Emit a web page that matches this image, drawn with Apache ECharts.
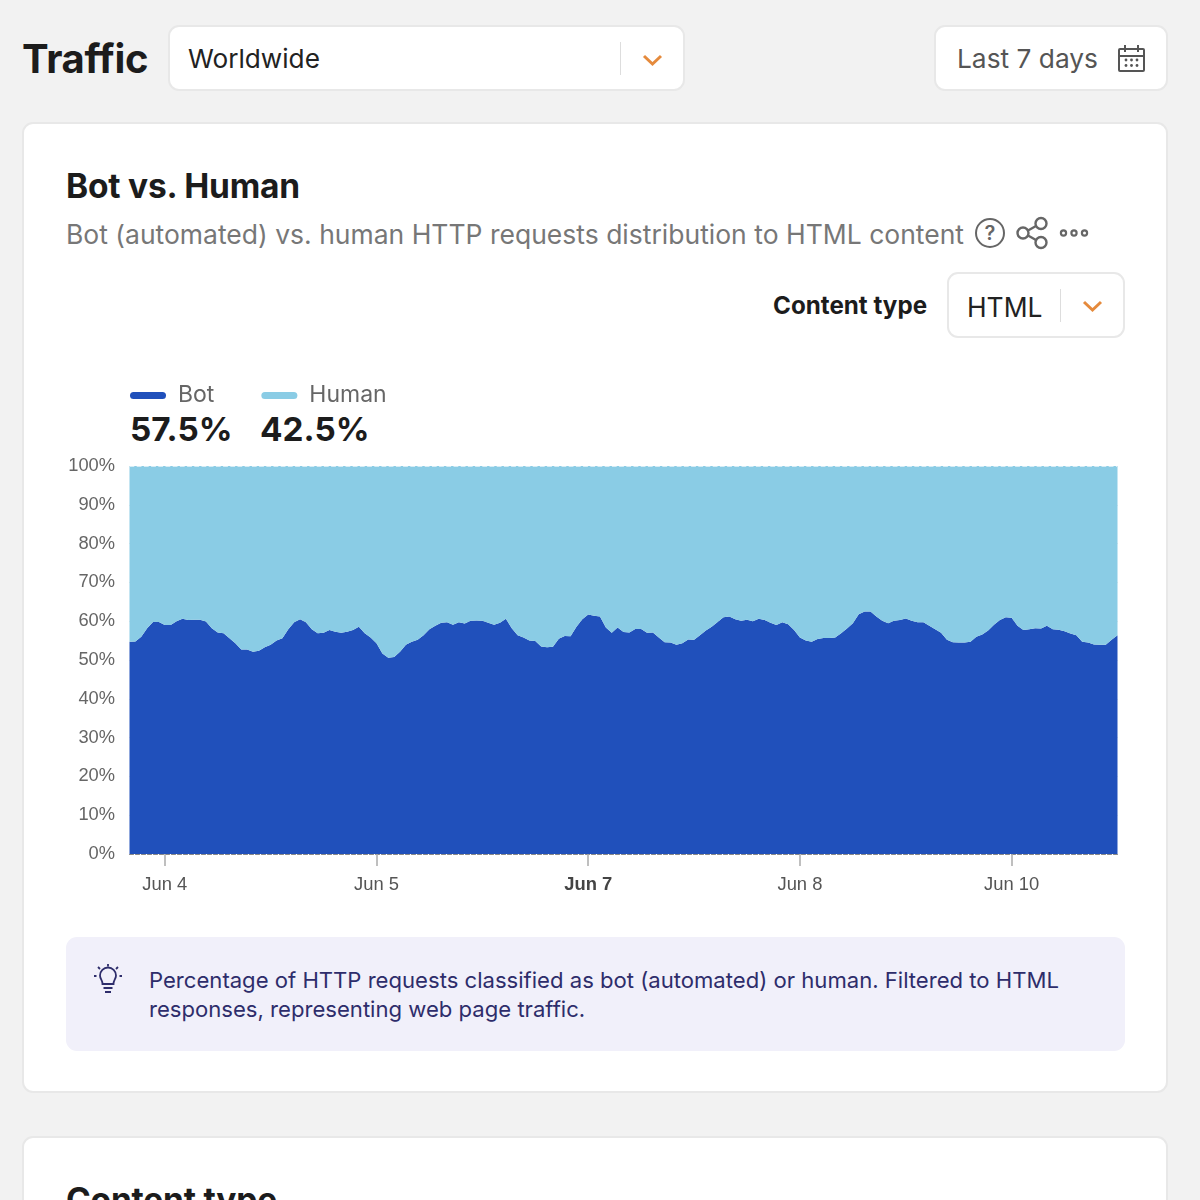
<!DOCTYPE html>
<html>
<head>
<meta charset="utf-8">
<script src="https://cdn.jsdelivr.net/npm/echarts@6/dist/echarts.min.js"></script>
<style>
html,body{margin:0;padding:0;width:1200px;height:1200px;overflow:hidden;background:#f2f2f2;font-family:Inter,"Liberation Sans",sans-serif;}
.a{position:absolute;white-space:nowrap;}
.box{position:absolute;background:#fff;border:2px solid #e8e8e8;border-radius:11px;box-sizing:border-box;}
.t{position:absolute;white-space:nowrap;line-height:40px;height:40px;}
svg{position:absolute;overflow:visible;}
#chart{position:absolute;left:0;top:0;width:1200px;height:1200px;}
</style>
</head>
<body>
<div class="t" style="left:22px;top:39px;font-size:40px;font-weight:700;color:#1c1c1c;letter-spacing:-0.3px">Traffic</div>
<div class="box" style="left:168px;top:25px;width:517px;height:66px"></div>
<div class="t" style="left:188px;top:38.5px;font-size:26.2px;color:#222">Worldwide</div>
<div class="a" style="left:620px;top:42px;width:1px;height:33px;background:#ddd"></div>
<svg style="left:642px;top:54px" width="22" height="12"><path d="M2 2 L10.5 10 L19 2" fill="none" stroke="#e58a3c" stroke-width="3"/></svg>
<div class="box" style="left:934px;top:25px;width:234px;height:66px"></div>
<div class="t" style="left:957px;top:38.5px;font-size:26.3px;color:#555">Last 7 days</div>
<svg style="left:1118px;top:45px" width="28" height="27" fill="none" stroke="#555" stroke-width="2">
  <rect x="1" y="4" width="25" height="22" rx="1"/><path d="M1 11 H26 M7 0 V7 M20 0 V7"/>
  <g fill="#555" stroke="none"><circle cx="8" cy="15" r="1.4"/><circle cx="13.5" cy="15" r="1.4"/><circle cx="19" cy="15" r="1.4"/><circle cx="8" cy="20.5" r="1.4"/><circle cx="13.5" cy="20.5" r="1.4"/><circle cx="19" cy="20.5" r="1.4"/></g>
</svg>

<div class="box" style="left:22px;top:122px;width:1146px;height:971px"></div>
<div class="t" style="left:66px;top:166px;font-size:33.5px;font-weight:700;color:#1c1c1c;letter-spacing:-0.2px">Bot vs. Human</div>
<div class="t" style="left:66px;top:213.5px;font-size:26.5px;color:#777">Bot (automated) vs. human HTTP requests distribution to HTML content</div>
<svg style="left:975px;top:218px" width="30" height="30"><circle cx="15" cy="15" r="14" fill="none" stroke="#666" stroke-width="2"/><text x="15" y="22" font-size="20" font-family="Inter" font-weight="600" text-anchor="middle" fill="#666">?</text></svg>
<svg style="left:1016px;top:217px" width="32" height="32" fill="none" stroke="#666" stroke-width="2.4"><circle cx="7" cy="16" r="5.5"/><circle cx="25" cy="6.5" r="5.5"/><circle cx="25" cy="25.5" r="5.5"/><path d="M12 13.5 L20 9 M12 18.5 L20 23"/></svg>
<svg style="left:1058px;top:226px" width="32" height="14" fill="none" stroke="#666" stroke-width="2.2"><circle cx="5.5" cy="7" r="2.6"/><circle cx="16" cy="7" r="2.6"/><circle cx="26.5" cy="7" r="2.6"/></svg>
<div class="t" style="left:773px;top:286px;font-size:24.2px;font-weight:700;color:#1c1c1c">Content type</div>
<div class="box" style="left:947px;top:272px;width:178px;height:66px"></div>
<div class="t" style="left:967px;top:286.5px;font-size:26.4px;color:#222">HTML</div>
<div class="a" style="left:1060px;top:289px;width:1px;height:33px;background:#ddd"></div>
<svg style="left:1082px;top:300px" width="22" height="12"><path d="M2 2 L10.5 10 L19 2" fill="none" stroke="#e58a3c" stroke-width="3"/></svg>

<div class="t" style="left:130px;top:409px;font-size:33.3px;font-weight:700;color:#1c1c1c">57.5%</div>
<div class="t" style="left:260px;top:409px;font-size:33.3px;font-weight:700;color:#1c1c1c">42.5%</div>

<div class="a" style="left:66px;top:937px;width:1059px;height:114px;background:#f1f0fa;border-radius:11px"></div>
<svg style="left:94px;top:964px" width="28" height="30" fill="none" stroke="#2e2d6b" stroke-width="1.8"><path d="M8.5 20 C8.5 16 6 15 6 11.5 A8 8 0 0 1 22 11.5 C22 15 19.5 16 19.5 20 Z"/><path d="M9.5 24 H18.5 M11 28 H17 M14 0 V2.5 M4 3 L6 5 M24 3 L22 5 M0 12 H2.5 M25.5 12 H28"/></svg>
<div class="t" style="left:149px;top:959.5px;font-size:22.1px;color:#2e2d6b">Percentage of HTTP requests classified as bot (automated) or human. Filtered to HTML</div>
<div class="t" style="left:149px;top:988.5px;font-size:22.1px;color:#2e2d6b">responses, representing web page traffic.</div>

<div class="box" style="left:22px;top:1136px;width:1146px;height:200px"></div>
<div class="t" style="left:66px;top:1180px;font-size:33.5px;font-weight:700;color:#1c1c1c;letter-spacing:-0.2px">Content type</div>

<div id="chart"></div>
<script>
const tickIndex = [6, 42, 78, 114, 150];
const tickLabels = ['Jun 4', 'Jun 5', 'Jun 7', 'Jun 8', 'Jun 10'];
const yTicks = [0, 10, 20, 30, 40, 50, 60, 70, 80, 90, 100];
const bot = [
54.7,54.8,56.0,58.2,59.8,59.8,59.0,59.0,60.0,60.6,60.3,60.4,60.4,59.9,58.2,57.1,56.9,55.6,54.3,52.7,52.7,52.1,52.4,53.3,53.9,55.0,55.6,57.9,59.7,60.5,59.7,57.9,56.9,57.0,57.7,57.3,57.0,57.3,57.7,58.6,56.9,55.8,54.3,51.7,50.6,50.8,52.1,53.9,54.7,55.2,56.4,57.9,58.8,59.6,59.7,59.1,59.7,
59.4,60.1,60.2,60.1,59.6,59.1,59.6,60.6,58.2,56.4,55.8,55.0,54.9,53.5,53.3,53.4,55.5,56.2,56.1,58.6,60.5,61.7,61.4,61.2,58.4,57.0,58.4,57.2,57.1,58.0,58.0,57.0,57.1,55.8,54.6,54.5,53.9,54.3,55.3,55.2,56.4,57.6,58.6,59.8,61.0,61.2,60.5,60.1,60.4,60.0,60.6,60.3,59.6,59.0,59.7,59.2,
57.7,55.8,55.0,54.7,55.4,55.7,55.7,55.8,56.9,58.1,59.5,61.8,62.5,62.5,61.2,60.1,59.5,60.1,60.3,60.7,60.1,59.7,59.7,58.8,57.9,57.0,55.2,54.6,54.5,54.5,54.7,56.0,56.6,57.6,59.1,60.3,61.0,60.9,58.8,57.7,57.9,58.2,58.1,58.8,57.9,57.8,57.4,56.8,56.4,54.7,54.5,54.0,53.9,53.9,55.2,56.4
];
const human = [
45.3,45.2,44.0,41.8,40.2,40.2,41.0,41.0,40.0,39.4,39.7,39.6,39.6,40.1,41.8,42.9,43.1,44.4,45.7,47.3,47.3,47.9,47.6,46.7,46.1,45.0,44.4,42.1,40.3,39.5,40.3,42.1,43.1,43.0,42.3,42.7,43.0,42.7,42.3,41.4,43.1,44.2,45.7,48.3,49.4,49.2,47.9,46.1,45.3,44.8,43.6,42.1,41.2,40.4,40.3,40.9,40.3,
40.6,39.9,39.8,39.9,40.4,40.9,40.4,39.4,41.8,43.6,44.2,45.0,45.1,46.5,46.7,46.6,44.5,43.8,43.9,41.4,39.5,38.3,38.6,38.8,41.6,43.0,41.6,42.8,42.9,42.0,42.0,43.0,42.9,44.2,45.4,45.5,46.1,45.7,44.7,44.8,43.6,42.4,41.4,40.2,39.0,38.8,39.5,39.9,39.6,40.0,39.4,39.7,40.4,41.0,40.3,40.8,
42.3,44.2,45.0,45.3,44.6,44.3,44.3,44.2,43.1,41.9,40.5,38.2,37.5,37.5,38.8,39.9,40.5,39.9,39.7,39.3,39.9,40.3,40.3,41.2,42.1,43.0,44.8,45.4,45.5,45.5,45.3,44.0,43.4,42.4,40.9,39.7,39.0,39.1,41.2,42.3,42.1,41.8,41.9,41.2,42.1,42.2,42.6,43.2,43.6,45.3,45.5,46.0,46.1,46.1,44.8,43.6
];
const hours = bot.map((_, i) => 'h' + i);
const labelOf = i => tickLabels[tickIndex.indexOf(i)];
const pill = 'path://M3.5 0H32.5A3.5 3.5 0 0 1 32.5 7H3.5A3.5 3.5 0 0 1 3.5 0Z';

const chart = echarts.init(document.getElementById('chart'), null, {renderer: 'canvas', width: 1200, height: 1200});
chart.setOption({
  backgroundColor: 'transparent',
  animation: false,
  grid: {left: 129.5, right: 82.5, top: 466, bottom: 346, containLabel: false},
  legend: {
    left: 130, top: 384, padding: 0, icon: pill, itemWidth: 36, itemHeight: 7, itemGap: 47,
    textStyle: {fontFamily: 'Inter', fontSize: 23, color: '#666', padding: [0, 0, 0, 7]},
    data: ['Bot', 'Human']
  },
  xAxis: {
    type: 'category', boundaryGap: false, data: hours,
    axisLine: {show: true, lineStyle: {color: '#888', type: 'dashed', width: 1}},
    axisTick: {show: true, alignWithLabel: true, length: 12, interval: i => tickIndex.includes(i), lineStyle: {color: '#aaa', width: 1.5}},
    axisLabel: {
      show: true, interval: i => tickIndex.includes(i), margin: 22, hideOverlap: false,
      fontFamily: 'Liberation Sans', fontSize: 18.4, color: '#555',
      formatter: (v, i) => {
        const l = labelOf(i);
        if (!l) return '';
        return l === 'Jun 7' ? '{b|' + l + '}' : l;
      },
      rich: {b: {fontFamily: 'Liberation Sans', fontSize: 18.4, fontWeight: 700, color: '#444'}}
    },
    splitLine: {show: false}
  },
  yAxis: {
    type: 'value', min: 0, max: 100, interval: 10,
    axisLine: {show: false}, axisTick: {show: false},
    axisLabel: {margin: 14.5, fontFamily: 'Liberation Sans', fontSize: 18.3, color: '#666', padding: [4, 0, 0, 0], formatter: v => yTicks.includes(v) ? v + '%' : ''},
    splitLine: {show: true, lineStyle: {color: '#d8d8d8', type: 'dashed', width: 1}}
  },
  series: [
    {name: 'Bot', type: 'line', stack: 'total', data: bot, showSymbol: false, sampling: null,
     itemStyle: {color: '#2050bb'}, lineStyle: {width: 0}, areaStyle: {color: '#2050bb', opacity: 1}},
    {name: 'Human', type: 'line', stack: 'total', data: human, showSymbol: false,
     itemStyle: {color: '#8accE5'}, lineStyle: {width: 0}, areaStyle: {color: '#8accE5', opacity: 1},
     markLine: {silent: true, symbol: 'none', label: {show: false}, lineStyle: {color: '#d5ecf5', type: 'dashed', width: 1.2}, data: [{yAxis: 100}]}}
  ]
});
</script>
</body>
</html>
